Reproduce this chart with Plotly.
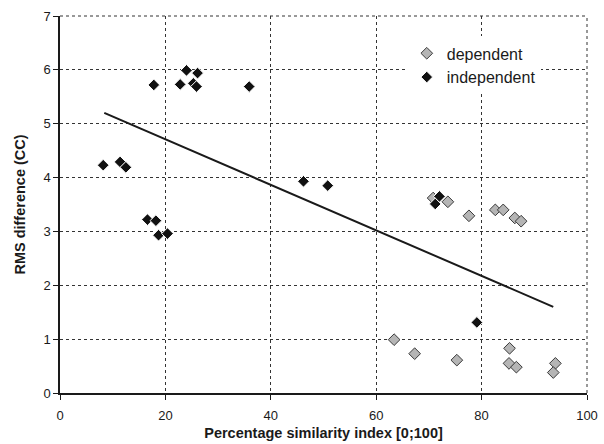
import plotly.graph_objects as go

# dependent (grey diamonds)
dep_x = [70.8, 73.6, 77.6, 82.6, 84.1, 86.3, 87.5, 63.4, 67.3, 75.3, 85.3, 85.2, 86.6, 94.0, 93.6]
dep_y = [3.62, 3.55, 3.29, 3.40, 3.40, 3.25, 3.19, 0.99, 0.73, 0.61, 0.83, 0.55, 0.48, 0.55, 0.38]

# independent (black diamonds)
ind_x = [8.2, 11.4, 12.5, 17.8, 22.8, 24.0, 26.1, 25.3, 25.9, 35.9,
         16.6, 18.2, 18.7, 20.4, 46.2, 50.8, 72.0, 71.2, 79.1]
ind_y = [4.23, 4.29, 4.19, 5.72, 5.73, 5.99, 5.94, 5.75, 5.69, 5.69,
         3.22, 3.20, 2.93, 2.96, 3.93, 3.85, 3.65, 3.51, 1.31]

# trend line endpoints
trend_x = [8.4, 93.6]
trend_y = [5.20, 1.60]

x_ticks = [0, 20, 40, 60, 80, 100]
y_ticks = [0, 1, 2, 3, 4, 5, 6, 7]

REG = "Liberation Sans, Arial, sans-serif"

fig = go.Figure()
fig.add_trace(go.Scatter(x=trend_x, y=trend_y, mode="lines",
                         line=dict(color="#1a1a1a", width=2), showlegend=False,
                         hoverinfo="skip"))
fig.add_trace(go.Scatter(x=dep_x, y=dep_y, mode="markers", name="dependent",
                         marker=dict(symbol="diamond", size=9, color="#b5b5b5",
                                     line=dict(color="#3a3a3a", width=1))))
fig.add_trace(go.Scatter(x=ind_x, y=ind_y, mode="markers", name="independent",
                         marker=dict(symbol="diamond", size=9, color="#111111",
                                     line=dict(color="#ffffff", width=1))))

grid = dict(showgrid=True, gridcolor="#333333", griddash="dot", gridwidth=1)

fig.update_layout(
    width=604, height=444,
    margin=dict(l=60, r=17, t=16, b=51),
    paper_bgcolor="white", plot_bgcolor="white",
    font=dict(family=REG, size=13, color="#1a1a1a"),
    xaxis=dict(range=[0, 100], tickvals=x_ticks, ticks="outside", ticklen=5,
               tickcolor="#1a1a1a", showline=True, linecolor="#1a1a1a", linewidth=1.5,
               zeroline=False, automargin=False, ticklabelstandoff=5,
               title=dict(text="<b>Percentage similarity index [0;100]</b>",
                          font=dict(family=REG, size=14.5), standoff=6),
               **grid),
    yaxis=dict(range=[0, 7], tickvals=y_ticks, ticks="outside", ticklen=5,
               tickcolor="#1a1a1a", showline=True, linecolor="#1a1a1a", linewidth=1.5,
               zeroline=False, automargin=False,
               title=dict(text="<b>RMS difference (CC)</b>",
                          font=dict(family=REG, size=14.5), standoff=14),
               **grid),
    legend=dict(x=0.658, y=0.946, xanchor="left", yanchor="top",
                bgcolor="white", borderwidth=0, tracegroupgap=0,
                font=dict(family=REG, size=16, color="#1a1a1a")),
    shapes=[
        dict(type="line", xref="paper", yref="paper", x0=0, x1=1, y0=1, y1=1,
             line=dict(color="#333333", width=1, dash="dot")),
        dict(type="line", xref="paper", yref="paper", x0=1, x1=1, y0=0, y1=1,
             line=dict(color="#333333", width=1, dash="dot")),
    ],
)

fig.write_html("out.html", config={"displayModeBar": False},
               post_script="document.body.style.margin='0px';")
